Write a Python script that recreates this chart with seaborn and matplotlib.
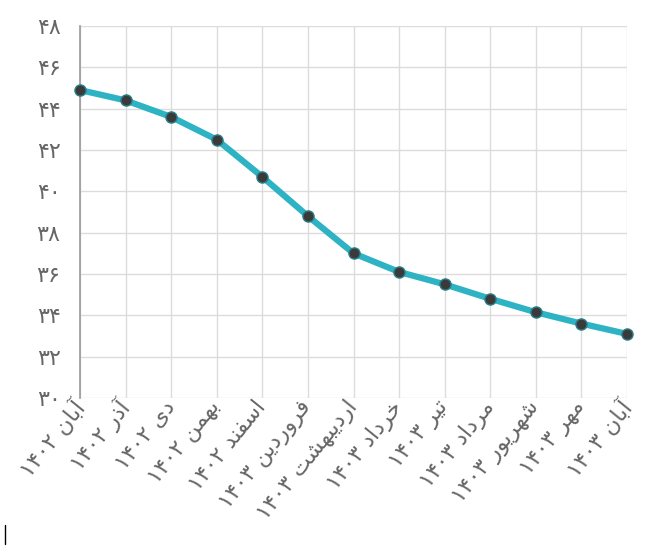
import pandas as pd
import numpy as np
import matplotlib.pyplot as plt
import matplotlib.lines as mlines
import seaborn as sns

sns.set_style('white')
plt.rcParams['font.family'] = ['DejaVu Sans']

months = ["آبان ۱۴۰۲", "آذر ۱۴۰۲", "دی ۱۴۰۲", "بهمن ۱۴۰۲", "اسفند ۱۴۰۲",
          "فروردین ۱۴۰۳", "اردیبهشت ۱۴۰۳", "خرداد ۱۴۰۳", "تیر ۱۴۰۳",
          "مرداد ۱۴۰۳", "شهریور ۱۴۰۳", "مهر ۱۴۰۳", "آبان ۱۴۰۳"]
values = [44.9, 44.4, 43.6, 42.5, 40.7, 38.8, 37.0, 36.1, 35.5, 34.8, 34.15, 33.6, 33.1]
yticks = [30, 32, 34, 36, 38, 40, 42, 44, 46, 48]

# matplotlib has no arabic shaping, so do it by hand with presentation forms
# (isolated, final, initial, medial)
forms = {
    'آ': ('\uFE81', '\uFE82', None, None),
    'ا': ('\uFE8D', '\uFE8E', None, None),
    'ب': ('\uFE8F', '\uFE90', '\uFE91', '\uFE92'),
    'ت': ('\uFE95', '\uFE96', '\uFE97', '\uFE98'),
    'خ': ('\uFEA5', '\uFEA6', '\uFEA7', '\uFEA8'),
    'د': ('\uFEA9', '\uFEAA', None, None),
    'ذ': ('\uFEAB', '\uFEAC', None, None),
    'ر': ('\uFEAD', '\uFEAE', None, None),
    'س': ('\uFEB1', '\uFEB2', '\uFEB3', '\uFEB4'),
    'ش': ('\uFEB5', '\uFEB6', '\uFEB7', '\uFEB8'),
    'ف': ('\uFED1', '\uFED2', '\uFED3', '\uFED4'),
    'م': ('\uFEE1', '\uFEE2', '\uFEE3', '\uFEE4'),
    'ن': ('\uFEE5', '\uFEE6', '\uFEE7', '\uFEE8'),
    'ه': ('\uFEE9', '\uFEEA', '\uFEEB', '\uFEEC'),
    'و': ('\uFEED', '\uFEEE', None, None),
    'ی': ('\uFEEF', '\uFEF0', '\uFEF3', '\uFEF4'),
}

def shape_word(w):
    out = []
    for i, ch in enumerate(w):
        if ch not in forms:
            out.append(ch)
            continue
        prev = w[i - 1] if i > 0 else None
        nxt = w[i + 1] if i < len(w) - 1 else None
        jp = prev in forms and forms[prev][2] is not None
        jn = forms[ch][2] is not None and nxt in forms
        f = forms[ch]
        if jp and jn:
            out.append(f[3])
        elif jp:
            out.append(f[1])
        elif jn:
            out.append(f[2])
        else:
            out.append(f[0])
    return ''.join(out)

def rtl(s):
    words = s.split(' ')[::-1]
    res = []
    for w in words:
        if any(c in forms for c in w):
            res.append(shape_word(w)[::-1])
        else:
            res.append(w)
    return ' '.join(res)

def fa_num(n):
    return ''.join('۰۱۲۳۴۵۶۷۸۹'[int(d)] for d in str(n))

df = pd.DataFrame({'month': months, 'value': values})

fig = plt.figure(figsize=(6.53, 5.47), dpi=100)
ax = fig.add_axes([0.1225, 0.2724, 0.8377, 0.6801])

sns.lineplot(data=df, x='month', y='value', sort=False, ax=ax,
             color='#2db3c3', linewidth=4.5, marker='o', markersize=8,
             markerfacecolor='#3a3a3a', markeredgecolor='#2a7f8a', markeredgewidth=1,
             clip_on=False, zorder=5)

ax.set_xlim(0, len(months) - 1)
ax.set_ylim(30, 48)
ax.set_yticks(yticks)
ax.set_yticklabels([fa_num(t) for t in yticks])
ax.set_xticks(range(len(months)))
ax.set_xticklabels([rtl(m) for m in months], rotation=51, ha='right', va='center',
                   rotation_mode='anchor')
ax.set_xlabel('')
ax.set_ylabel('')

ax.grid(True, color='#dcdcdc', linewidth=1)
ax.tick_params(axis='both', length=13, color='#dcdcdc', labelcolor='#666666')
ax.tick_params(axis='y', labelsize=16, pad=1)
ax.tick_params(axis='x', labelsize=16, pad=-9)
for s in ['top', 'right', 'bottom']:
    ax.spines[s].set_visible(False)
ax.spines['left'].set_color('#999999')
ax.spines['left'].set_linewidth(1.2)
ax.set_axisbelow(True)

# little cursor mark at the bottom left of the original
fig.add_artist(mlines.Line2D([0.008, 0.008], [0.005, 0.04], color='black', linewidth=1))

fig.savefig('out.png', dpi=100)
